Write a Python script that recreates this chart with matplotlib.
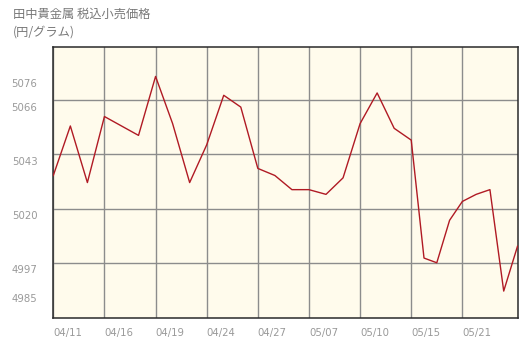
import numpy as np
import matplotlib
matplotlib.use("Agg")
import matplotlib.pyplot as plt
from matplotlib.transforms import ScaledTranslation

# ---- data ----
prices = [5034, 5055, 5031, 5059, 5055, 5051, 5076, 5056, 5031, 5047,
          5068, 5063, 5037, 5034, 5028, 5028, 5026, 5033, 5056, 5069,
          5054, 5049, 4999, 4997, 5015, 5023, 5026, 5028, 4985, 5004]
tick_labels = ["04/11", "04/16", "04/19", "04/24", "04/27",
               "05/07", "05/10", "05/15", "05/21"]
tick_index = [0, 3, 6, 9, 12, 15, 18, 21, 25]
ytick_values = [4985, 4997, 5020, 5043, 5066, 5076]
ygrid_values = [4997, 5020, 5043, 5066]
title_text = "田中貴金属 税込小売価格"
unit_text = "(円/グラム)"

# layout: each labelled slot is one grid unit; the tail after the last label is a bit wider
last_slot_width = 55 / 51
slot_pos = list(range(len(tick_index))) + [len(tick_index) - 1 + last_slot_width]
slot_idx = tick_index + [len(prices) - 1]
x = np.interp(np.arange(len(prices)), slot_idx, slot_pos)
tick_x = np.arange(len(tick_index))

plt.rcParams['font.family'] = ['DejaVu Sans']
fig = plt.figure(figsize=(5.24, 3.49), dpi=100)
fig.patch.set_facecolor("white")
ax = fig.add_axes([53.3 / 524, 1 - 317.5 / 349, (517.5 - 53.3) / 524, (317.5 - 46.7) / 349])
ax.set_facecolor("#FFFBEC")

ax.plot(x, prices, color="#B01A24", linewidth=1.0, zorder=3)

ax.set_xlim(0, slot_pos[-1])
ax.set_ylim(4973.8, 5088.6)

ax.set_xticks(tick_x)
ax.set_xticklabels(tick_labels, ha="left")
ax.set_yticks(ytick_values)
ax.set_yticklabels([str(v) for v in ytick_values])
ax.tick_params(axis="both", which="both", length=0, colors="#999999", labelsize=7.3)
ax.tick_params(axis="y", pad=11.5)
ax.tick_params(axis="x", pad=7.5)

for v in ygrid_values:
    ax.axhline(v, color="#8C8C8C", linewidth=1.0, zorder=1)
ax.grid(axis="x", which="major", color="#8C8C8C", linewidth=1.0, zorder=1)
ax.set_axisbelow(True)

off = ScaledTranslation(0, -6.7 / 100, fig.dpi_scale_trans)
for lab in ax.get_yticklabels():
    lab.set_transform(lab.get_transform() + off)

for s in ax.spines.values():
    s.set_color("#2A2A2A")
    s.set_linewidth(1.1)

cjk = ['Noto Sans CJK JP', 'DejaVu Sans']
fig.text(13 / 524, 1 - 14 / 349, title_text, family=cjk, fontsize=8.8,
         color="#777777", ha="left", va="center")
fig.text(13 / 524, 1 - 32.5 / 349, unit_text, family=cjk, fontsize=8.8,
         color="#777777", ha="left", va="center")

fig.savefig("out.png", dpi=100, facecolor="white")
